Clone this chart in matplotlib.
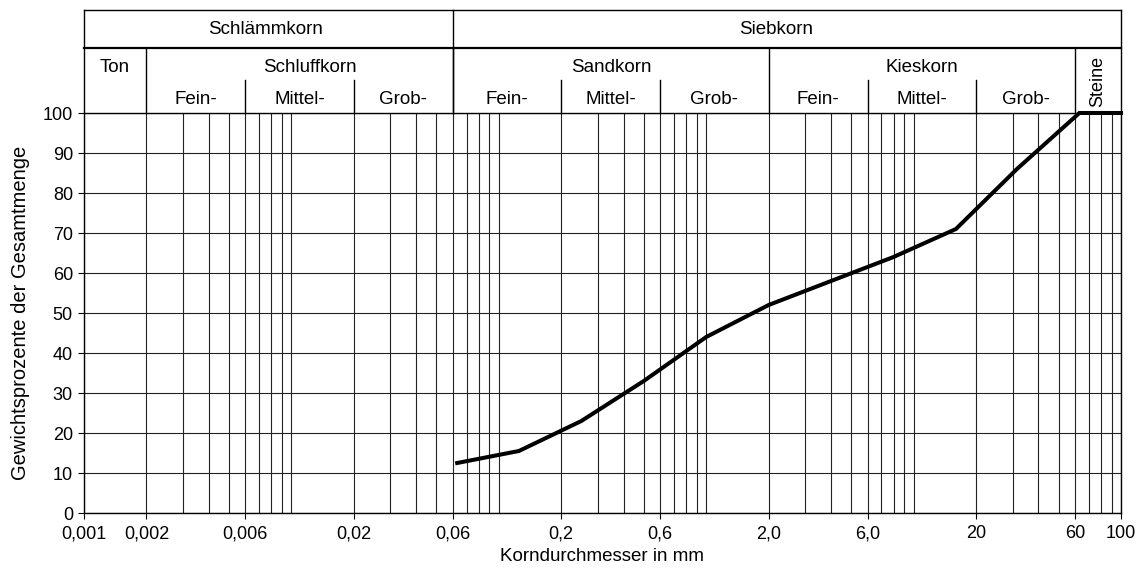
import numpy as np
import matplotlib
matplotlib.use("Agg")
import matplotlib.pyplot as plt
from matplotlib.ticker import FixedLocator, LogLocator, NullFormatter

plt.rcParams["font.family"] = ["Liberation Sans", "DejaVu Sans"]

# Grain size distribution (Sieblinie)
diameter_mm = [0.063, 0.125, 0.25, 0.5, 1.0, 2.0, 4.0, 8.0, 16.0, 31.5, 63.0, 100.0]
passing_pct = [12.5, 15.5, 23.0, 33.0, 44.0, 52.0, 58.0, 64.0, 71.0, 86.0, 100.0, 100.0]

x_tick_values = [0.001, 0.002, 0.006, 0.02, 0.06, 0.2, 0.6, 2, 6, 20, 60, 100]
x_tick_labels = ["0,001", "0,002", "0,006", "0,02", "0,06", "0,2", "0,6",
                 "2,0", "6,0", "20", "60", "100"]
y_tick_values = list(range(0, 101, 10))

# Header classification (DIN 4022)
main_groups = ["Schlämmkorn", "Siebkorn"]
main_bounds = [(0.001, 0.06), (0.06, 100)]
main_label_x = [0.0075, 2.17]
soil_types = ["Ton", "Schluffkorn", "Sandkorn", "Kieskorn", "Steine"]
soil_bounds = [(0.001, 0.002), (0.002, 0.06), (0.06, 2), (2, 60), (60, 100)]
soil_label_x = [0.0014, 0.0123, 0.35, 11.0, 77.5]
fraction_names = ["Fein-", "Mittel-", "Grob-"]
fraction_bounds = [
    [(0.002, 0.006), (0.006, 0.02), (0.02, 0.06)],
    [(0.06, 0.2), (0.2, 0.6), (0.6, 2)],
    [(2, 6), (6, 20), (20, 60)],
]

W, H = 1148, 569
fig = plt.figure(figsize=(W / 100, H / 100), dpi=100)
ax = fig.add_axes([84 / W, 1 - 513 / H, (1121 - 84) / W, 400 / H])

ax.set_xscale("log")
ax.set_xlim(0.001, 100)
ax.set_ylim(0, 100)

ax.xaxis.set_major_locator(FixedLocator(x_tick_values))
ax.set_xticklabels(x_tick_labels)
ax.xaxis.set_minor_locator(LogLocator(base=10, subs=np.arange(1, 10), numticks=100))
ax.xaxis.set_minor_formatter(NullFormatter())
ax.set_yticks(y_tick_values)

ax.tick_params(axis="both", which="major", direction="out", length=4, width=0.8,
               labelsize=13, colors="black")
ax.tick_params(axis="x", which="minor", length=0)
ax.tick_params(axis="x", pad=5)
ax.tick_params(axis="y", pad=4)

grid_kw = dict(color="#222222", linewidth=0.8)
ax.grid(True, which="both", axis="x", **grid_kw)
ax.grid(True, which="major", axis="y", **grid_kw)
ax.set_axisbelow(True)

for s in ax.spines.values():
    s.set_color("black")
    s.set_linewidth(1.0)

ax.plot(diameter_mm, passing_pct, color="black", linewidth=2.9,
        solid_joinstyle="miter", zorder=5, clip_on=False)

ax.set_xlabel("Korndurchmesser in mm", fontsize=13.5, labelpad=4)
ax.set_ylabel("Gewichtsprozente der Gesamtmenge", fontsize=14.5, labelpad=9)

# Header table above the plot
tr = ax.get_xaxis_transform()
y_top, y_row, y_sub = 1.2575, 1.1625, 1.0825
line_kw = dict(color="black", transform=tr, clip_on=False)

ax.plot([0.001, 100], [y_top, y_top], linewidth=1.0, **line_kw)
ax.plot([0.001, 100], [y_row, y_row], linewidth=1.6, **line_kw)
ax.plot([0.001, 0.001], [1.0, y_top], linewidth=1.0, **line_kw)
ax.plot([100, 100], [1.0, y_top], linewidth=1.0, **line_kw)

for lo, hi in main_bounds[1:]:
    ax.plot([lo, lo], [1.0, y_top], linewidth=1.0, **line_kw)
for lo, hi in soil_bounds[1:]:
    ax.plot([lo, lo], [1.0, y_row], linewidth=1.0, **line_kw)
for group in fraction_bounds:
    for lo, hi in group[1:]:
        ax.plot([lo, lo], [1.0, y_sub], linewidth=1.0, **line_kw)


def geo_mid(lo, hi):
    return np.sqrt(lo * hi)


for name, xc in zip(main_groups, main_label_x):
    ax.text(xc, 1.2075, name, transform=tr, ha="center", va="center", fontsize=13.5)

for name, xc in zip(soil_types, soil_label_x):
    if name == "Steine":
        ax.text(xc, 1.08, name, transform=tr, ha="center", va="center",
                rotation=90, fontsize=13)
    else:
        ax.text(xc, 1.1125, name, transform=tr, ha="center", va="center",
                fontsize=13.5)

for group in fraction_bounds:
    for name, (lo, hi) in zip(fraction_names, group):
        ax.text(geo_mid(lo, hi), 1.0325, name, transform=tr, ha="center", va="center",
                fontsize=13.5)

fig.savefig("out.png", dpi=100)
